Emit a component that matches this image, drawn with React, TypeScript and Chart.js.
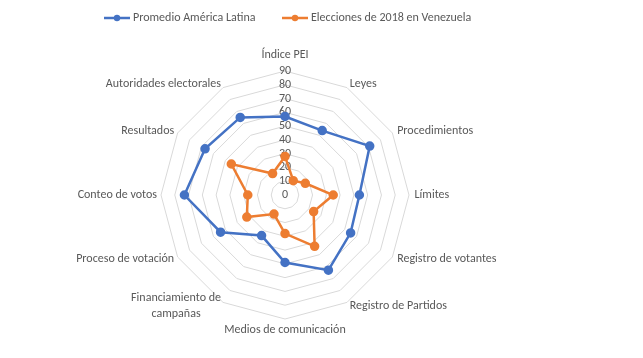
import React, { useEffect, useRef } from "react";
import { Chart, registerables } from "chart.js";
Chart.register(...registerables);

const categories: (string | string[])[] = [
  "Índice PEI",
  "Leyes",
  "Procedimientos",
  "Límites",
  "Registro de votantes",
  "Registro de Partidos",
  "Medios de comunicación",
  ["Financiamiento de", "campañas"],
  "Proceso de votación",
  "Conteo de votos",
  "Resultados",
  "Autoridades electorales",
];
const seriesNames = ["Promedio América Latina", "Elecciones de 2018 en Venezuela"];
const latamValues = [57, 54, 71, 54, 55, 63, 49, 34, 54, 73, 67, 65];
const venezuelaValues = [28, 12, 17, 35, 24, 43, 28, 16, 32, 27, 45, 18];
const colors = ["#4472C4", "#ED7D31"];
const FONT = "Calibri, Carlito, Lato, 'Open Sans', sans-serif";
const TEXT = "#595959";

const labelsPlugin = {
  id: "customLabels",
  afterDraw(chart: any) {
    const ctx = chart.ctx;
    const r = chart.scales.r;
    const cx = r.xCenter;
    const cy = r.yCenter;
    const R = r.drawingArea;
    ctx.save();
    ctx.font = `12px ${FONT}`;
    ctx.fillStyle = TEXT;
    ctx.textBaseline = "middle";

    // legend
    const ly = 18;
    const items = [
      { x: 104, label: seriesNames[0], color: colors[0] },
      { x: 282, label: seriesNames[1], color: colors[1] },
    ];
    items.forEach((it) => {
      ctx.strokeStyle = it.color;
      ctx.lineWidth = 2.5;
      ctx.beginPath();
      ctx.moveTo(it.x, ly);
      ctx.lineTo(it.x + 26, ly);
      ctx.stroke();
      ctx.fillStyle = it.color;
      ctx.beginPath();
      ctx.arc(it.x + 13, ly, 3.2, 0, Math.PI * 2);
      ctx.fill();
      ctx.fillStyle = TEXT;
      ctx.textAlign = "left";
      ctx.fillText(it.label, it.x + 29, ly);
    });

    // zero tick label
    ctx.textAlign = "center";
    ctx.fillText("0", cx, cy);

    // point labels
    const n = categories.length;
    categories.forEach((lab, i) => {
      const th = (i * 2 * Math.PI) / n;
      const s = Math.sin(th);
      const c = Math.cos(th);
      const vx = cx + R * s;
      const vy = cy - R * c;
      const lines = Array.isArray(lab) ? lab : [lab];
      const lh = 16;
      if (Math.abs(s) < 1e-6) {
        ctx.textAlign = "center";
        const y = c > 0 ? vy - 16 : vy + 11;
        lines.forEach((l, k) => ctx.fillText(l, cx, y + k * lh));
        return;
      }
      const x = vx + (s > 0 ? 5.5 : 4) * s;
      const yc = vy - 4 * c;
      const y0 = yc - ((lines.length - 1) * lh) / 2;
      if (lines.length === 1) {
        ctx.textAlign = s > 0 ? "left" : "right";
        ctx.fillText(lines[0], x, y0);
      } else {
        const w = Math.max(...lines.map((l) => ctx.measureText(l).width));
        const mid = s > 0 ? x + w / 2 : x - w / 2;
        ctx.textAlign = "center";
        lines.forEach((l, k) => ctx.fillText(l, mid, y0 + k * lh));
      }
    });
    ctx.restore();
  },
};

export default function App() {
  const ref = useRef<HTMLCanvasElement>(null);
  useEffect(() => {
    document.body.style.margin = "0";
    const chart = new Chart(ref.current!, {
      type: "radar",
      data: {
        labels: categories as any,
        datasets: [
          {
            label: seriesNames[0],
            data: latamValues,
            borderColor: colors[0],
            backgroundColor: colors[0],
            borderWidth: 2.5,
            pointRadius: 3.5,
            pointBackgroundColor: colors[0],
            pointBorderColor: colors[0],
            fill: false,
          },
          {
            label: seriesNames[1],
            data: venezuelaValues,
            borderColor: colors[1],
            backgroundColor: colors[1],
            borderWidth: 2.5,
            pointRadius: 3.5,
            pointBackgroundColor: colors[1],
            pointBorderColor: colors[1],
            fill: false,
          },
        ],
      },
      options: {
        animation: false,
        responsive: false,
        layout: { padding: { top: 63, bottom: 31, left: 0, right: 73 } },
        plugins: { legend: { display: false }, tooltip: { enabled: false } },
        scales: {
          r: {
            min: 0,
            max: 90,
            ticks: {
              stepSize: 10,
              showLabelBackdrop: false,
              color: TEXT,
              font: { family: FONT, size: 12 },
            },
            grid: { color: "#D9D9D9", lineWidth: 1 },
            angleLines: { display: false },
            pointLabels: { display: false },
          },
        },
      },
      plugins: [labelsPlugin],
    });
    return () => chart.destroy();
  }, []);
  return (
    <div style={{ width: 643, height: 358 }}>
      <canvas ref={ref} width={643} height={358} style={{ width: 643, height: 358, display: "block" }} />
    </div>
  );
}
